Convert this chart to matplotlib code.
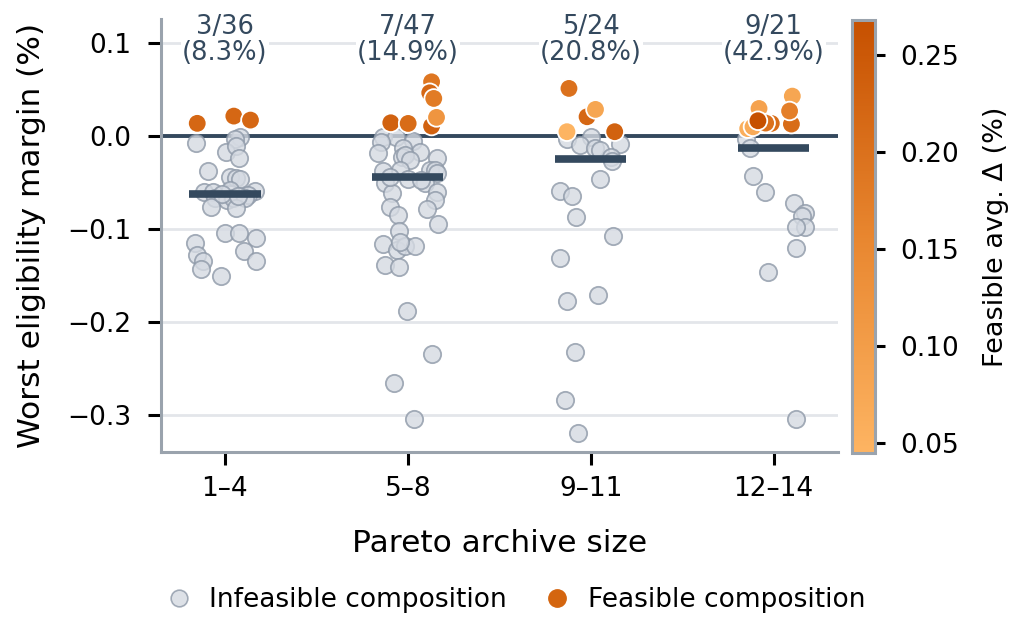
import numpy as np
import matplotlib
matplotlib.use("Agg")
import matplotlib.pyplot as plt
from matplotlib.colors import LinearSegmentedColormap, Normalize
from matplotlib.lines import Line2D

categories = ["1–4", "5–8", "9–11", "12–14"]

# Infeasible compositions: worst eligibility margin (%) and horizontal jitter
inf_vals = [
    [-0.0079, -0.0007, -0.0036, -0.0168, -0.0108, -0.024, -0.038, -0.0437, -0.0455, -0.0466,
     -0.0588, -0.060, -0.060, -0.058, -0.063, -0.067, -0.069, -0.067, -0.067, -0.0767,
     -0.0778, -0.104, -0.104, -0.110, -0.1147, -0.1237, -0.128, -0.134, -0.134, -0.143,
     -0.151, -0.062, -0.065],
    [-0.0014, -0.0014, -0.0054, -0.006, -0.0186, -0.0133, -0.0168, -0.022, -0.020, -0.026,
     -0.024, -0.0366, -0.038, -0.0366, -0.0366, -0.040, -0.051, -0.0466, -0.050, -0.061,
     -0.060, -0.069, -0.076, -0.078, -0.085, -0.0946, -0.102, -0.116, -0.123, -0.118,
     -0.118, -0.114, -0.139, -0.141, -0.188, -0.235, -0.266, -0.305, -0.047, -0.044],
    [-0.0036, -0.0014, -0.0097, -0.013, -0.015, -0.0086, -0.022, -0.027, -0.0466, -0.0588,
     -0.064, -0.0867, -0.1075, -0.1315, -0.171, -0.178, -0.232, -0.284, -0.320],
    [-0.0032, -0.0125, -0.0427, -0.060, -0.072, -0.0824, -0.086, -0.0975, -0.0975, -0.121,
     -0.146, -0.305],
]
inf_jit = [
    [-0.160, 0.082, 0.055, 0.005, 0.060, 0.078, -0.091, 0.027, 0.060, 0.082,
     0.164, -0.113, -0.066, 0.027, 0.126, -0.055, 0.009, 0.042, 0.109, -0.078,
     0.060, 0.0, 0.078, 0.169, -0.164, 0.104, -0.155, -0.119, 0.169, -0.133,
     -0.023, -0.016, 0.071],
    [-0.135, -0.062, 0.029, -0.144, -0.162, -0.026, 0.066, -0.034, -0.016, 0.011,
     0.157, -0.044, -0.135, 0.120, 0.148, 0.157, -0.126, 0.002, 0.093, -0.086,
     0.160, 0.148, -0.095, 0.105, -0.053, 0.166, -0.048, -0.138, -0.058, -0.016,
     0.038, -0.044, -0.126, -0.048, -0.004, 0.133, -0.073, 0.033, 0.07, -0.10],
    [-0.127, 0.004, -0.056, 0.022, 0.049, 0.158, 0.113, 0.119, 0.053, -0.166,
     -0.102, -0.078, 0.122, -0.166, 0.040, -0.131, -0.084, -0.142, -0.069],
    [-0.153, -0.127, -0.113, -0.045, 0.109, 0.169, 0.157, 0.169, 0.124, 0.120,
     -0.031, 0.124],
]

# Feasible compositions: margin (%), jitter, feasible avg. delta (%)
fea_vals = [
    [0.0137, 0.0215, 0.0172],
    [0.0584, 0.0466, 0.0405, 0.0108, 0.0201, 0.0143, 0.0136],
    [0.0513, 0.0208, 0.0287, 0.0047, 0.0047],
    [0.008, 0.043, 0.0129, 0.027, 0.0297, 0.010, 0.0136, 0.014, 0.0165],
]
fea_jit = [
    [-0.151, 0.049, 0.140],
    [0.130, 0.120, 0.142, 0.130, 0.157, -0.093, 0.002],
    [-0.119, -0.020, 0.026, -0.130, 0.131],
    [-0.142, 0.102, 0.097, 0.087, -0.080, -0.113, -0.013, -0.044, -0.086],
]
fea_delta = [
    [0.22, 0.22, 0.22],
    [0.19, 0.22, 0.18, 0.23, 0.12, 0.23, 0.21],
    [0.20, 0.22, 0.08, 0.045, 0.23],
    [0.06, 0.08, 0.21, 0.17, 0.09, 0.07, 0.21, 0.20, 0.268],
]

DARK = "#34495e"
SPINE = "#9aa3ad"
GRID = "#e3e6ea"
cmap = LinearSegmentedColormap.from_list("or", ["#fdb462", "#e8862f", "#c65000"])
all_delta = np.concatenate([np.array(d) for d in fea_delta])
norm = Normalize(vmin=all_delta.min(), vmax=all_delta.max())

plt.rcParams["font.family"] = "DejaVu Sans"
fig = plt.figure(figsize=(10.31, 6.41), dpi=100)
ax = fig.add_axes([0.156, 0.295, 0.8125 - 0.156, 0.9696 - 0.295])
cax = fig.add_axes([0.826, 0.2933, 0.0226, 0.9688 - 0.2933])

ax.axhline(0, color=DARK, lw=2.8, zorder=2)
for i in range(len(categories)):
    iv = np.array(inf_vals[i]); ij = np.array(inf_jit[i])
    ax.scatter(i + ij, iv, s=155, facecolor="#d5dae2", edgecolor="#8e99a8",
               linewidth=1.3, alpha=0.8, zorder=3)
    fv = np.array(fea_vals[i]); fj = np.array(fea_jit[i])
    ax.scatter(i + fj, fv, s=180, c=fea_delta[i], cmap=cmap, norm=norm,
               edgecolor="white", linewidth=1.3, zorder=5)
    allv = np.concatenate([iv, fv])
    med = np.median(allv)
    ax.plot([i - 0.195, i + 0.195], [med, med], color=DARK, lw=5.5,
            solid_capstyle="butt", zorder=4)
    n_f = len(fv); n_t = len(allv)
    ax.text(i, 0.103, f"{n_f}/{n_t}\n({100*n_f/n_t:.1f}%)", ha="center", va="center",
            fontsize=18.5, color=DARK, zorder=6, clip_on=False, linespacing=1.0,
            bbox=dict(facecolor="white", edgecolor="none", pad=1))

ax.set_xlim(-0.35, 3.35)
ax.set_ylim(-0.34, 0.1255)
ax.set_xticks(range(len(categories)))
ax.set_xticklabels(categories)
ax.set_yticks([-0.3, -0.2, -0.1, 0.0, 0.1])
ax.set_yticklabels(["−0.3", "−0.2", "−0.1", "0.0", "0.1"])
ax.yaxis.grid(True, color=GRID, lw=2, zorder=0)
ax.set_axisbelow(True)
for s in ["top", "right"]:
    ax.spines[s].set_visible(False)
for s in ["left", "bottom"]:
    ax.spines[s].set_color(SPINE)
    ax.spines[s].set_linewidth(2.2)
ax.tick_params(axis="both", labelsize=19, length=9.5, width=2.2)
ax.tick_params(axis="x", pad=8)
ax.tick_params(axis="y", pad=12)
ax.set_xlabel("Pareto archive size", fontsize=22.5, labelpad=19)
ax.set_ylabel("Worst eligibility margin (%)", fontsize=22.5, labelpad=15)

sm = matplotlib.cm.ScalarMappable(norm=norm, cmap=cmap)
cb = fig.colorbar(sm, cax=cax)
cb.set_ticks([0.05, 0.10, 0.15, 0.20, 0.25])
cb.outline.set_edgecolor(SPINE)
cb.outline.set_linewidth(2.2)
cax.tick_params(labelsize=19, length=7.5, width=2.2, pad=11)
cb.set_label("Feasible avg. Δ (%)", fontsize=19.5, labelpad=17)

handles = [
    Line2D([], [], marker="o", ls="none", markersize=12, markerfacecolor="#d5dae2",
           markeredgecolor="#8e99a8", markeredgewidth=1.2, alpha=0.8),
    Line2D([], [], marker="o", ls="none", markersize=12.5, markerfacecolor="#d4650f",
           markeredgecolor="#d4650f"),
]
fig.legend(handles, ["Infeasible composition", "Feasible composition"], loc="center",
           bbox_to_anchor=(509 / 1031, 1 - 600 / 641), ncol=2, frameon=False,
           fontsize=19, handletextpad=0.15, columnspacing=0.9)

fig.savefig("out.png", dpi=100)
